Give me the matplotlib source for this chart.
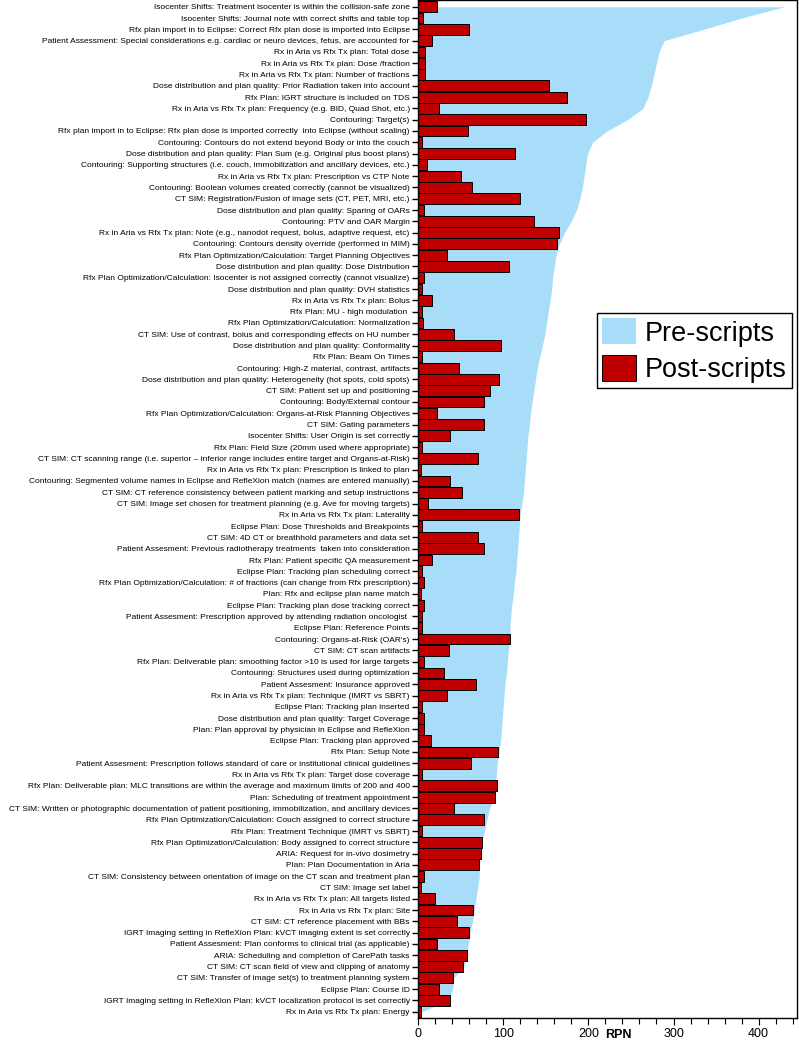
import numpy as np
import matplotlib
matplotlib.use("Agg")
import matplotlib.pyplot as plt
from matplotlib import font_manager
from matplotlib.ticker import MultipleLocator

installed = {f.name for f in font_manager.fontManager.ttflist}
LABEL_FONT = "Liberation Sans Narrow" if "Liberation Sans Narrow" in installed else "Liberation Sans"

labels = [
    "Isocenter Shifts: Treatment isocenter is within the collision-safe zone",
    "Isocenter Shifts: Journal note with correct shifts and table top",
    "Rfx plan import in to Eclipse: Correct Rfx plan dose is imported into Eclipse",
    "Patient Assessment: Special considerations e.g. cardiac or neuro devices, fetus, are accounted for",
    "Rx in Aria vs Rfx Tx plan: Total dose",
    "Rx in Aria vs Rfx Tx plan: Dose /fraction",
    "Rx in Aria vs Rfx Tx plan: Number of fractions",
    "Dose distribution and plan quality: Prior Radiation taken into account",
    "Rfx Plan: IGRT structure is included on TDS",
    "Rx in Aria vs Rfx Tx plan: Frequency (e.g. BID, Quad Shot, etc.)",
    "Contouring: Target(s)",
    "Rfx plan import in to Eclipse: Rfx plan dose is imported correctly  into Eclipse (without scaling)",
    "Contouring: Contours do not extend beyond Body or into the couch",
    "Dose distribution and plan quality: Plan Sum (e.g. Original plus boost plans)",
    "Contouring: Supporting structures (i.e. couch, immobilization and ancillary devices, etc.)",
    "Rx in Aria vs Rfx Tx plan: Prescription vs CTP Note",
    "Contouring: Boolean volumes created correctly (cannot be visualized)",
    "CT SIM: Registration/Fusion of image sets (CT, PET, MRI, etc.)",
    "Dose distribution and plan quality: Sparing of OARs",
    "Contouring: PTV and OAR Margin",
    "Rx in Aria vs Rfx Tx plan: Note (e.g., nanodot request, bolus, adaptive request, etc)",
    "Contouring: Contours density override (performed in MIM)",
    "Rfx Plan Optimization/Calculation: Target Planning Objectives",
    "Dose distribution and plan quality: Dose Distribution",
    "Rfx Plan Optimization/Calculation: Isocenter is not assigned correctly (cannot visualize)",
    "Dose distribution and plan quality: DVH statistics",
    "Rx in Aria vs Rfx Tx plan: Bolus",
    "Rfx Plan: MU - high modulation ",
    "Rfx Plan Optimization/Calculation: Normalization",
    "CT SIM: Use of contrast, bolus and corresponding effects on HU number",
    "Dose distribution and plan quality: Conformality",
    "Rfx Plan: Beam On Times",
    "Contouring: High-Z material, contrast, artifacts",
    "Dose distribution and plan quality: Heterogeneity (hot spots, cold spots)",
    "CT SIM: Patient set up and positioning",
    "Contouring: Body/External contour",
    "Rfx Plan Optimization/Calculation: Organs-at-Risk Planning Objectives",
    "CT SIM: Gating parameters",
    "Isocenter Shifts: User Origin is set correctly",
    "Rfx Plan: Field Size (20mm used where appropriate)",
    "CT SIM: CT scanning range (i.e. superior \u2013 inferior range includes entire target and Organs-at-Risk)",
    "Rx in Aria vs Rfx Tx plan: Prescription is linked to plan",
    "Contouring: Segmented volume names in Eclipse and RefleXion match (names are entered manually)",
    "CT SIM: CT reference consistency between patient marking and setup instructions",
    "CT SIM: Image set chosen for treatment planning (e.g. Ave for moving targets)",
    "Rx in Aria vs Rfx Tx plan: Laterality",
    "Eclipse Plan: Dose Thresholds and Breakpoints",
    "CT SIM: 4D CT or breathhold parameters and data set",
    "Patient Assesment: Previous radiotherapy treatments  taken into consideration",
    "Rfx Plan: Patient specific QA measurement",
    "Eclipse Plan: Tracking plan scheduling correct",
    "Rfx Plan Optimization/Calculation: # of fractions (can change from Rfx prescription)",
    "Plan: Rfx and eclipse plan name match",
    "Eclipse Plan: Tracking plan dose tracking correct",
    "Patient Assesment: Prescription approved by attending radiation oncologist ",
    "Eclipse Plan: Reference Points",
    "Contouring: Organs-at-Risk (OAR's)",
    "CT SIM: CT scan artifacts",
    "Rfx Plan: Deliverable plan: smoothing factor >10 is used for large targets",
    "Contouring: Structures used during optimization",
    "Patient Assesment: Insurance approved",
    "Rx in Aria vs Rfx Tx plan: Technique (IMRT vs SBRT)",
    "Eclipse Plan: Tracking plan inserted",
    "Dose distribution and plan quality: Target Coverage",
    "Plan: Plan approval by physician in Eclipse and RefleXion",
    "Eclipse Plan: Tracking plan approved",
    "Rfx Plan: Setup Note",
    "Patient Assesment: Prescription follows standard of care or institutional clinical guidelines",
    "Rx in Aria vs Rfx Tx plan: Target dose coverage",
    "Rfx Plan: Deliverable plan: MLC transitions are within the average and maximum limits of 200 and 400",
    "Plan: Scheduling of treatment appointment",
    "CT SIM: Written or photographic documentation of patient positioning, immobilization, and ancillary devices",
    "Rfx Plan Optimization/Calculation: Couch assigned to correct structure",
    "Rfx Plan: Treatment Technique (IMRT vs SBRT)",
    "Rfx Plan Optimization/Calculation: Body assigned to correct structure",
    "ARIA: Request for in-vivo dosimetry",
    "Plan: Plan Documentation in Aria",
    "CT SIM: Consistency between orientation of image on the CT scan and treatment plan",
    "CT SIM: Image set label",
    "Rx in Aria vs Rfx Tx plan: All targets listed",
    "Rx in Aria vs Rfx Tx plan: Site",
    "CT SIM: CT reference placement with BBs",
    "IGRT Imaging setting in RefleXion Plan: kVCT imaging extent is set correctly",
    "Patient Assesment: Plan conforms to clinical trial (as applicable)",
    "ARIA: Scheduling and completion of CarePath tasks",
    "CT SIM: CT scan field of view and clipping of anatomy",
    "CT SIM: Transfer of image set(s) to treatment planning system",
    "Eclipse Plan: Course ID",
    "IGRT Imaging setting in RefleXion Plan: kVCT localization protocol is set correctly",
    "Rx in Aria vs Rfx Tx plan: Energy",
]

pre_scripts = [
    430, 380, 335, 289, 283, 280, 277, 274, 270, 264,
    246, 222, 205, 199, 197, 195, 193, 190, 186, 180,
    172, 166, 162, 160, 158, 157, 155, 153, 151, 149,
    146, 143, 140, 138, 136, 134, 132, 131, 129, 128,
    127, 126, 125, 124, 122, 120, 119, 118, 117, 116,
    115, 113, 112, 110, 109, 108, 108, 106, 105, 104,
    102, 101, 100, 99, 98, 97, 95, 93, 92, 91,
    89, 84, 81, 78, 75, 74, 72, 72, 70, 68,
    66, 64, 61, 59, 57, 54, 42, 41, 35, 5,
]

post_scripts = [
    22, 6, 60, 16, 8, 8, 8, 154, 175, 25,
    197, 59, 5, 114, 10, 51, 63, 120, 7, 136,
    166, 163, 34, 107, 7, 5, 17, 5, 6, 42,
    98, 5, 48, 95, 84, 78, 22, 77, 37, 5,
    71, 3, 38, 52, 12, 119, 5, 71, 77, 17,
    5, 7, 4, 7, 5, 5, 108, 36, 7, 30,
    68, 34, 5, 7, 7, 15, 94, 62, 5, 93,
    90, 42, 77, 5, 75, 74, 72, 7, 4, 20,
    64, 46, 60, 22, 57, 53, 41, 25, 37, 3,
]

BLUE = "#A8DDF9"
RED = "#C00000"

fig = plt.figure(figsize=(7.99, 10.44), dpi=100)
ax = fig.add_axes([418 / 799, 26 / 1044, 379 / 799, 1018 / 1044])

y = np.arange(len(labels))
ax.fill_betweenx(y, 0, pre_scripts, color=BLUE, linewidth=0, zorder=1, label="Pre-scripts")
ax.barh(y, post_scripts, height=0.96, color=RED, edgecolor="black", linewidth=0.7,
        zorder=2, label="Post-scripts")

ax.set_ylim(len(labels) - 1 + 0.56, -0.6)
ax.set_xlim(0, 445)
ax.set_yticks(y)
ticklabels = ax.set_yticklabels(labels, fontsize=6.6, family=LABEL_FONT)
ax.tick_params(axis="y", length=4, width=1, pad=2)

# shrink the category labels until the longest one fits left of the axis
fig.canvas.draw()
renderer = fig.canvas.get_renderer()
room = 402
size = 6.6
for _ in range(4):
    widest = max(t.get_window_extent(renderer).width for t in ticklabels)
    if widest <= room:
        break
    size *= room / widest
    for t in ticklabels:
        t.set_fontsize(size)
    fig.canvas.draw()

ax.xaxis.set_major_locator(MultipleLocator(100))
ax.xaxis.set_minor_locator(MultipleLocator(20))
ax.tick_params(axis="x", which="major", length=5, width=0.8, labelsize=9, pad=2)
ax.tick_params(axis="x", which="minor", length=4, width=0.8)
for lab in ax.get_xticklabels():
    lab.set_family("Liberation Sans")

ax.set_xlabel("RPN", fontweight="bold", fontsize=9, family="Liberation Sans")
ax.xaxis.set_label_coords(235 / 445, -0.011)

for s in ax.spines.values():
    s.set_linewidth(1.0)

leg = ax.legend(loc="upper left", bbox_to_anchor=(0.472, 0.6925), borderaxespad=0,
                fancybox=False, framealpha=1, edgecolor="black",
                prop={"family": "Liberation Sans", "size": 19.5},
                handlelength=1.25, handleheight=1.1, handletextpad=0.3,
                labelspacing=0.3, borderpad=0.2)
leg.get_frame().set_linewidth(1.0)

fig.savefig("out.png", dpi=100)
